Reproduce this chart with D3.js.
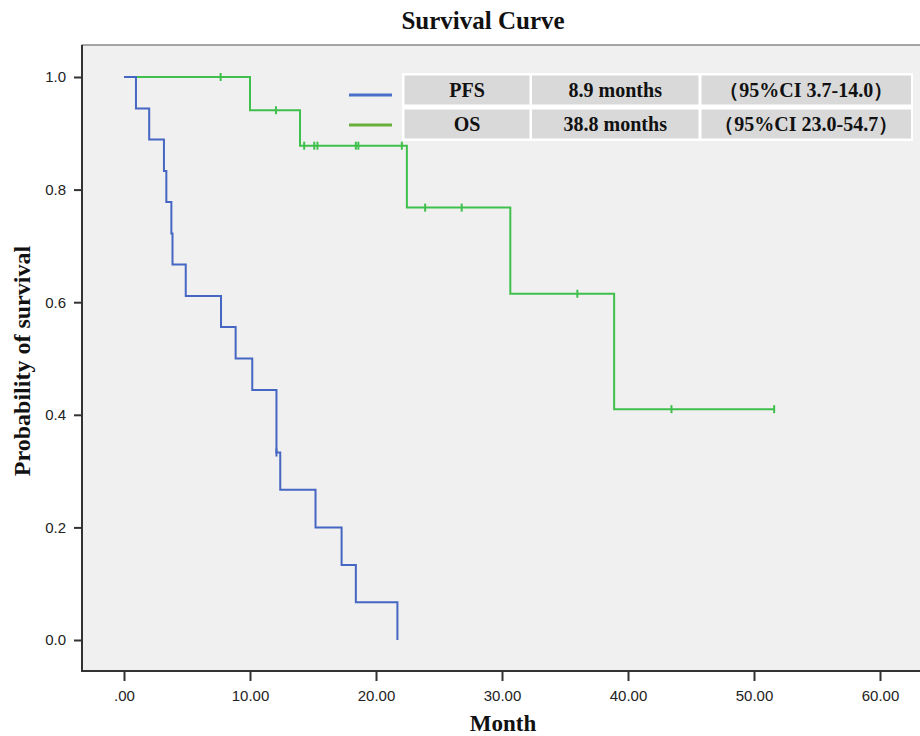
<!DOCTYPE html>
<html>
<head>
<meta charset="utf-8">
<script src="https://cdn.jsdelivr.net/npm/d3@7"></script>
<style>
  body { margin: 0; background: #fff; }
  svg { display: block; }
</style>
</head>
<body>
<svg id="chart"></svg>
<script>
const width = 920;
const height = 736;

// Kaplan-Meier steps
const pfsTimes = [0, 0.95, 2.0, 3.17, 3.36, 3.76, 3.85, 4.9, 7.7, 8.86, 10.18, 12.1, 12.4, 15.2, 17.27, 18.4, 21.7];
const pfsSurv = [1, 0.944, 0.889, 0.833, 0.778, 0.722, 0.667, 0.611, 0.556, 0.5, 0.444, 0.333, 0.267, 0.2, 0.133, 0.067, 0];
const pfsCensored = [12.1];

const osTimes = [0, 10.0, 13.97, 22.45, 30.66, 38.9, 51.6];
const osSurv = [1, 0.941, 0.878, 0.768, 0.615, 0.41, 0.41];
const osCensored = [7.67, 12.06, 14.3, 15.1, 15.35, 18.4, 18.6, 22.05, 23.9, 26.8, 35.98, 43.45, 51.6];

const xTicks = [0, 10, 20, 30, 40, 50, 60];
const yTicks = [0, 0.2, 0.4, 0.6, 0.8, 1.0];

const legendRows = [
  ["PFS", "8.9 months", "（95%CI 3.7-14.0）"],
  ["OS", "38.8 months", "（95%CI 23.0-54.7）"]
];

const svg = d3.select("#chart").attr("width", width).attr("height", height);

const x = d3.scaleLinear().domain([0, 60]).range([124, 880]);
const y = d3.scaleLinear().domain([0, 1]).range([640, 77]);

const plot = { left: 82, top: 45, right: 930, bottom: 671 };
const serif = "'Liberation Serif', 'Times New Roman', serif";

svg.append("rect")
  .attr("x", plot.left).attr("y", plot.top)
  .attr("width", plot.right - plot.left).attr("height", plot.bottom - plot.top)
  .attr("fill", "#f0f0f0").attr("stroke", "#555").attr("stroke-width", 1);

// left + bottom frame heavier
svg.append("path")
  .attr("d", `M${plot.left},${plot.top}V${plot.bottom}H${plot.right}`)
  .attr("fill", "none").attr("stroke", "#333").attr("stroke-width", 2);

// axes
const yAxis = d3.axisLeft(y).tickValues(yTicks).tickFormat(d3.format(".1f")).tickSize(8).tickPadding(8);
const gy = svg.append("g").attr("transform", `translate(${plot.left},0)`).call(yAxis);
gy.select(".domain").remove();

const xAxis = d3.axisBottom(x).tickValues(xTicks)
  .tickFormat(d => d === 0 ? ".00" : d3.format(".2f")(d)).tickSize(10).tickPadding(9);
const gx = svg.append("g").attr("transform", `translate(0,${plot.bottom})`).call(xAxis);
gx.select(".domain").remove();

svg.selectAll(".tick line").attr("stroke", "#333").attr("stroke-width", 2);
svg.selectAll(".tick text")
  .attr("fill", "#222")
  .style("font-family", "'Liberation Sans', Arial, sans-serif")
  .style("font-size", "15px");

// curves
const line = d3.line().x(d => x(d[0])).y(d => y(d[1])).curve(d3.curveStepAfter);

function drawCurve(times, surv, censored, color) {
  const pts = times.map((t, i) => [t, surv[i]]);
  svg.append("path")
    .datum(pts)
    .attr("d", line)
    .attr("fill", "none")
    .attr("stroke", color)
    .attr("stroke-width", 2);

  const bis = d3.bisector(d => d).right;
  svg.append("g").selectAll("line")
    .data(censored)
    .join("line")
    .attr("x1", d => x(d)).attr("x2", d => x(d))
    .attr("y1", d => y(surv[Math.max(0, bis(times, d) - 1)]) - 4)
    .attr("y2", d => y(surv[Math.max(0, bis(times, d) - 1)]) + 4)
    .attr("stroke", color)
    .attr("stroke-width", 2);
}

drawCurve(osTimes, osSurv, osCensored, "#3fbf4b");
drawCurve(pfsTimes, pfsSurv, pfsCensored, "#4566c2");

// legend
const legendColors = ["#4a6fc8", "#6aae3c"];
const rowY = [75.5, 109.5];
const rowH = 29;
const colX = [404.5, 532, 701.5];
const colW = [125, 166.5, 209.5];

svg.append("rect")
  .attr("x", 402).attr("y", 73).attr("width", 511).attr("height", 68)
  .attr("fill", "#fff");

legendRows.forEach((row, r) => {
  svg.append("line")
    .attr("x1", 349).attr("x2", 392)
    .attr("y1", rowY[r] + rowH / 2 + (r === 0 ? 5 : 1)).attr("y2", rowY[r] + rowH / 2 + (r === 0 ? 5 : 1))
    .attr("stroke", legendColors[r]).attr("stroke-width", 3);
  row.forEach((txt, c) => {
    svg.append("rect")
      .attr("x", colX[c]).attr("y", rowY[r])
      .attr("width", colW[c]).attr("height", rowH)
      .attr("fill", "#d9d9d9");
    svg.append("text")
      .attr("x", colX[c] + colW[c] / 2).attr("y", rowY[r] + rowH / 2 + 7)
      .attr("text-anchor", "middle")
      .style("font-family", serif)
      .style("font-weight", "bold").style("font-size", "20px")
      .attr("fill", "#111")
      .text(txt);
  });
});

// titles
svg.append("text")
  .attr("x", 483).attr("y", 29).attr("text-anchor", "middle")
  .style("font-family", serif)
  .style("font-weight", "bold").style("font-size", "25px")
  .attr("fill", "#111")
  .text("Survival Curve");

svg.append("text")
  .attr("x", 503).attr("y", 731).attr("text-anchor", "middle")
  .style("font-family", serif)
  .style("font-weight", "bold").style("font-size", "23px")
  .attr("fill", "#111")
  .text("Month");

svg.append("text")
  .attr("transform", "translate(30,361) rotate(-90)").attr("text-anchor", "middle")
  .style("font-family", serif)
  .style("font-weight", "bold").style("font-size", "24px")
  .attr("fill", "#111")
  .text("Probability of survival");
</script>
</body>
</html>
